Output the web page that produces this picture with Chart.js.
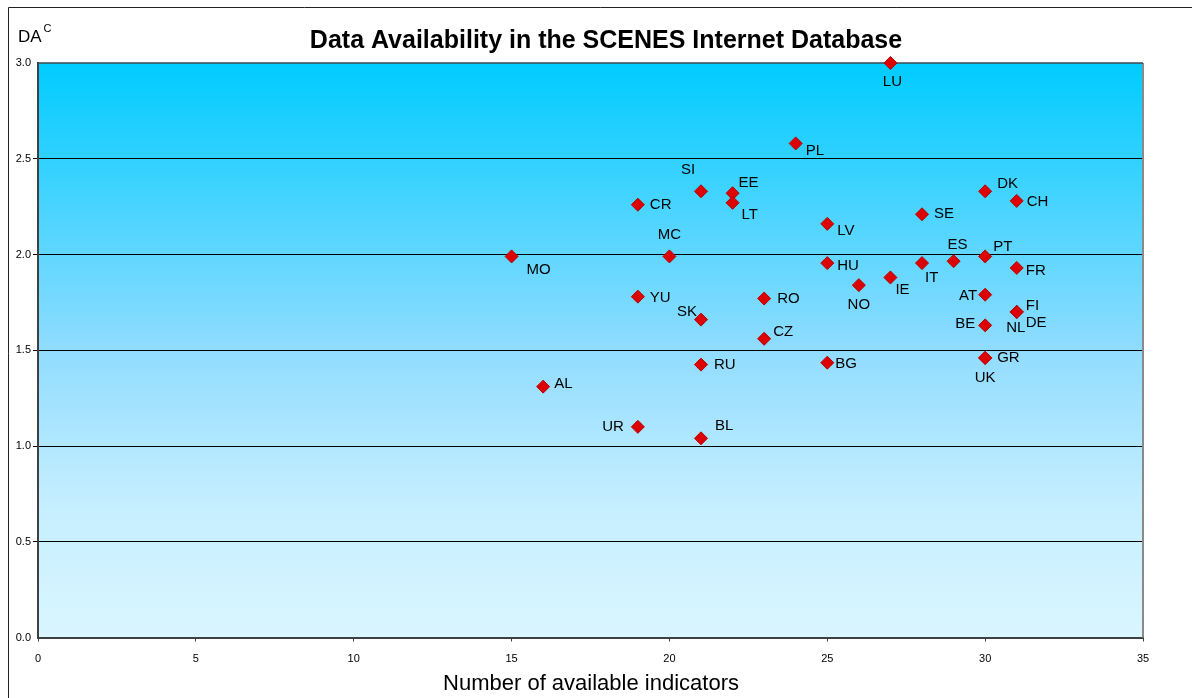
<!DOCTYPE html>
<html>
<head>
<meta charset="utf-8">
<script src="https://cdn.jsdelivr.net/npm/chart.js@4/dist/chart.umd.min.js"></script>
<style>
  html, body { margin: 0; padding: 0; background: #ffffff; }
  #wrap { width: 1192px; height: 698px; position: relative; }
</style>
</head>
<body>
<div id="wrap"><canvas id="c" width="1192" height="698"></canvas></div>
<script>
// ---- data ----
const countries = ['LU','PL','SI','EE','LT','CR','DK','CH','SE','LV','MC','MO','PT','ES','HU','IT','FR','IE','NO','AT','YU','RO','FI','NL','DE','SK','BE','CZ','GR','UK','RU','BG','AL','UR','BL'];
const indicators = [27,24,21,22,22,19,30,31,28,25,20,15,30,29,25,28,31,27,26,30,19,23,31,31,31,21,30,23,30,30,21,25,16,19,21];
const dacValues = [3.0,2.58,2.33,2.32,2.27,2.26,2.33,2.28,2.21,2.16,1.99,1.99,1.99,1.965,1.955,1.955,1.93,1.88,1.84,1.79,1.78,1.77,1.70,1.70,1.70,1.66,1.63,1.56,1.46,1.46,1.425,1.435,1.31,1.10,1.04];
const xTicks = [0,5,10,15,20,25,30,35];
const yTicks = [0.0,0.5,1.0,1.5,2.0,2.5,3.0];
const chartTitle = 'Data Availability in the SCENES Internet Database';
const xAxisTitle = 'Number of available indicators';

// label placement relative to each marker: [dx, dy, align]
const labelPlacement = {
  LU:[2,19,'center'], PL:[10,7,'left'], SI:[-13,-21,'center'], EE:[6,-10,'left'], LT:[9,12,'left'],
  CR:[12,0,'left'], DK:[12,-7,'left'], CH:[10,1,'left'], SE:[12,0,'left'], LV:[10,7,'left'],
  MC:[0,-22,'center'], MO:[15,13,'left'], PT:[8,-10,'left'], ES:[4,-16,'center'], HU:[10,3,'left'],
  IT:[3,15,'left'], FR:[9,3,'left'], IE:[5,12,'left'], NO:[0,20,'center'], AT:[-8,1,'right'],
  YU:[12,1,'left'], RO:[13,0,'left'], FI:[9,-6,'left'], NL:[-1,16,'center'], DE:[9,11,'left'],
  SK:[-4,-8,'right'], BE:[-10,-1,'right'], CZ:[9,-7,'left'], GR:[12,0,'left'], UK:[0,20,'center'],
  RU:[13,0,'left'], BG:[8,1,'left'], AL:[11,-3,'left'], UR:[-14,0,'right'], BL:[14,-12,'left']
};

const points = indicators.map((x, i) => ({ x: x, y: dacValues[i], label: countries[i] }));

const FONT = 'Arial, "Liberation Sans", sans-serif';

const decorPlugin = {
  id: 'decor',
  beforeDraw(chart) {
    const ctx = chart.ctx;
    const a = chart.chartArea;
    ctx.save();
    ctx.fillStyle = '#ffffff';
    ctx.fillRect(0, 0, chart.width, chart.height);
    const g = ctx.createLinearGradient(0, a.top, 0, a.bottom);
    g.addColorStop(0, '#00CCFF');
    g.addColorStop(0.5, '#90DCFF');
    g.addColorStop(0.76, '#C4EEFF');
    g.addColorStop(1, '#DAF6FF');
    ctx.fillStyle = g;
    ctx.fillRect(a.left, a.top, a.right - a.left, a.bottom - a.top);
    ctx.restore();
  },
  beforeDatasetsDraw(chart) {
    const ctx = chart.ctx;
    const a = chart.chartArea;
    ctx.save();
    ctx.strokeStyle = '#8a8a8a';
    ctx.lineWidth = 2;
    ctx.beginPath();
    ctx.moveTo(a.right, a.top);
    ctx.lineTo(a.right, a.bottom);
    ctx.stroke();
    ctx.strokeStyle = '#404850';
    ctx.lineWidth = 1.5;
    ctx.beginPath();
    ctx.moveTo(a.left, a.top);
    ctx.lineTo(a.right, a.top);
    ctx.stroke();
    ctx.restore();
  },
  afterDatasetsDraw(chart) {
    const ctx = chart.ctx;
    const meta = chart.getDatasetMeta(0);
    ctx.save();
    // point labels
    ctx.fillStyle = '#000000';
    ctx.font = '15px ' + FONT;
    ctx.textBaseline = 'middle';
    meta.data.forEach((el, i) => {
      const name = points[i].label;
      const p = labelPlacement[name] || [10, 0, 'left'];
      ctx.textAlign = p[2];
      ctx.fillText(name, el.x + p[0], el.y + p[1]);
    });

    // title
    ctx.font = 'bold 25px ' + FONT;
    ctx.textAlign = 'center';
    ctx.fillText(chartTitle, 606, 41);

    // y-axis title DA^C
    ctx.textAlign = 'left';
    ctx.font = '17px ' + FONT;
    ctx.fillText('DA', 18, 37);
    const w = ctx.measureText('DA').width;
    ctx.font = '11px ' + FONT;
    ctx.fillText('C', 18 + w + 2, 29);

    // x-axis title
    ctx.font = '22px ' + FONT;
    ctx.textAlign = 'center';
    ctx.fillText(xAxisTitle, 591, 684);

    // outer frame
    ctx.strokeStyle = '#222222';
    ctx.lineWidth = 1;
    ctx.beginPath();
    ctx.moveTo(8.5, chart.height + 2);
    ctx.lineTo(8.5, 7.5);
    ctx.lineTo(chart.width + 2, 7.5);
    ctx.stroke();
    ctx.restore();
  }
};

new Chart(document.getElementById('c'), {
  type: 'scatter',
  data: {
    datasets: [{
      data: points,
      clip: false,
      pointStyle: 'rectRot',
      pointRadius: 6.5,
      pointHoverRadius: 6.5,
      backgroundColor: '#DD0000',
      borderColor: '#B80000',
      borderWidth: 1
    }]
  },
  options: {
    responsive: false,
    animation: false,
    events: [],
    layout: { padding: { top: 63, right: 49, left: 0, bottom: 0 } },
    plugins: {
      legend: { display: false },
      tooltip: { enabled: false },
      title: { display: false }
    },
    scales: {
      x: {
        type: 'linear',
        min: 0, max: 35,
        afterBuildTicks: s => { s.ticks = xTicks.map(v => ({ value: v })); },
        afterFit: s => { s.height = 60.5; },
        ticks: {
          font: { family: FONT, size: 11 },
          color: '#000000',
          padding: 11,
          maxRotation: 0,
          callback: v => String(v)
        },
        grid: {
          drawOnChartArea: false,
          drawTicks: true,
          tickLength: 4,
          color: '#404040',
          lineWidth: 1
        },
        border: { display: true, color: '#404040', width: 2 }
      },
      y: {
        type: 'linear',
        min: 0, max: 3,
        afterBuildTicks: s => { s.ticks = yTicks.map(v => ({ value: v })); },
        afterFit: s => { s.width = 38; },
        ticks: {
          font: { family: FONT, size: 11 },
          color: '#000000',
          padding: 2,
          callback: v => Number(v).toFixed(1)
        },
        grid: {
          drawOnChartArea: true,
          drawTicks: true,
          tickLength: 5,
          color: ctx => (ctx.tick && (ctx.tick.value === 0 || ctx.tick.value === 3)) ? 'rgba(0,0,0,0)' : '#000000',
          lineWidth: 1
        },
        border: { display: true, color: '#404040', width: 2 }
      }
    }
  },
  plugins: [decorPlugin]
});
</script>
</body>
</html>
